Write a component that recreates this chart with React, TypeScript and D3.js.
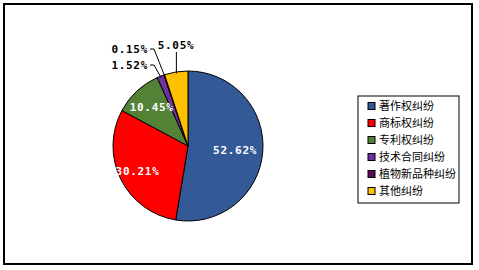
import React from "react";
import * as d3 from "d3";

const categories = ["著作权纠纷", "商标权纠纷", "专利权纠纷", "技术合同纠纷", "植物新品种纠纷", "其他纠纷"];
const values = [52.62, 30.21, 10.45, 1.52, 0.15, 5.05];
const labels = ["52.62%", "30.21%", "10.45%", "1.52%", "0.15%", "5.05%"];
const colors = ["#335996", "#FF0000", "#538135", "#7030A0", "#5C0A5C", "#FFC000"];

const W = 479;
const H = 270;
const cx = 188;
const cy = 146;
const R = 75;

// inside label radius factors (null = outside label with leader)
const insideFactor: (number | null)[] = [0.63, 0.75, 0.71, null, null, null];
// outside label placements relative to pie centre
const outside: Record<number, { dx: number; dy: number; anchor: string; kind: string }> = {
  3: { dx: -40, dy: -81, anchor: "end", kind: "side" },
  4: { dx: -40, dy: -97, anchor: "end", kind: "side" },
  5: { dx: -12, dy: -101, anchor: "middle", kind: "top" },
};

export default function App() {
  const pie = d3.pie<number>().sort(null).value((d) => d);
  const arcs = pie(values);
  const arc = d3.arc<d3.PieArcDatum<number>>().innerRadius(0).outerRadius(R);
  const font = "'DejaVu Sans Mono', 'Liberation Mono', monospace";

  const legendX = 358;
  const legendY = 96;
  const legendW = 101;
  const legendH = 107;
  const rowY = d3.scalePoint<number>().domain(d3.range(categories.length)).range([legendY + 10, legendY + 95]);

  return (
    <div style={{ position: "absolute", left: 0, top: 0 }}>
      <svg width={W} height={H} style={{ display: "block", background: "#fff" }}>
        <rect x={4} y={4} width={468} height={260} fill="#fff" stroke="#000" strokeWidth={2} />
        <g transform={`translate(${cx},${cy})`}>
          {arcs.map((a, i) => (
            <path key={i} d={arc(a) || ""} fill={colors[i]} stroke="#000" strokeWidth={1} />
          ))}
          {arcs.map((a, i) => {
            const f = insideFactor[i];
            if (f == null) return null;
            const mid = (a.startAngle + a.endAngle) / 2;
            const x = Math.sin(mid) * R * f;
            const y = -Math.cos(mid) * R * f;
            return (
              <text key={i} x={x} y={y} dy="0.36em" textAnchor="middle" fill="#fff" fontFamily={font} fontWeight="bold" fontSize={11} letterSpacing={0.7}>
                {labels[i]}
              </text>
            );
          })}
          {arcs.map((a, i) => {
            const o = outside[i];
            if (!o) return null;
            const mid = (a.startAngle + a.endAngle) / 2;
            const ex = Math.sin(mid) * R * 0.98;
            const ey = -Math.cos(mid) * R * 0.98;
            let line: [number, number][];
            if (o.kind === "side") {
              line = [
                [o.dx + 2, o.dy],
                [o.dx + 6, o.dy],
                [ex, ey],
              ];
            } else {
              line = [
                [ex, o.dy + 7],
                [ex, ey],
              ];
            }
            return (
              <g key={i}>
                <path d={d3.line()(line) || ""} fill="none" stroke="#000" strokeWidth={1} />
                <text x={o.dx} y={o.dy} dy="0.36em" textAnchor={o.anchor} fill="#000" fontFamily={font} fontWeight="bold" fontSize={11} letterSpacing={0.7}>
                  {labels[i]}
                </text>
              </g>
            );
          })}
        </g>
        <rect x={legendX} y={legendY} width={legendW} height={legendH} fill="#fff" stroke="#000" strokeWidth={1} />
        {categories.map((c, i) => (
          <g key={c} transform={`translate(${legendX + 10},${rowY(i)})`}>
            <rect x={0} y={-3.5} width={7} height={7} fill={colors[i]} stroke="#000" strokeWidth={1} />
            <text x={11} y={0} dy="0.36em" fontFamily="'Noto Sans CJK SC', sans-serif" fontSize={11} fill="#000">
              {c}
            </text>
          </g>
        ))}
      </svg>
    </div>
  );
}
